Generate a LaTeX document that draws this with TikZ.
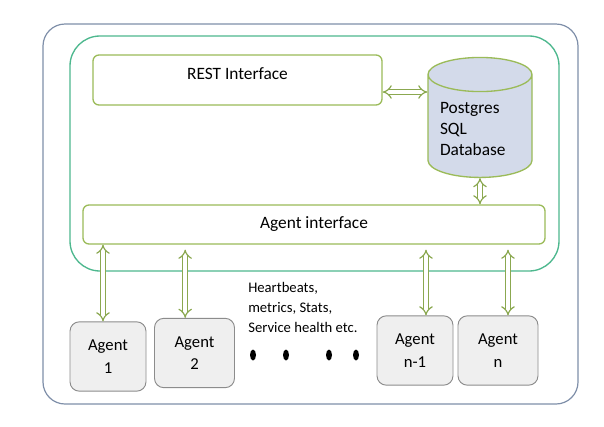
\documentclass[tikz,border=0pt]{standalone}
\usepackage{fontspec}
\setmainfont{Carlito}
\usetikzlibrary{arrows.meta,shapes.geometric}
\definecolor{outerblue}{HTML}{7F8FA9}
\definecolor{tealgreen}{HTML}{4DB88E}
\definecolor{olivegreen}{HTML}{9BBB59}
\definecolor{dbfill}{HTML}{D3DAEA}
\definecolor{agentfill}{HTML}{EFEFEF}
\definecolor{agentdraw}{HTML}{8C8C8C}
\tikzset{
  ifbox/.style={draw=olivegreen,line width=1pt,rounded corners=4.5pt,fill=white,font=\fontsize{13}{15}\selectfont},
  agentbox/.style={draw=agentdraw,line width=0.7pt,fill=agentfill,rounded corners=7pt,
    minimum width=57pt,minimum height=52pt,align=center,font=\fontsize{12.5}{17}\selectfont},
  hollow/.style={draw=olivegreen!90!black,double=white,double distance=2.6pt,line width=0.9pt,{Implies}-{Implies}}
}
\begin{document}
\begin{tikzpicture}[x=0.75pt,y=-0.75pt]
  \useasboundingbox[fill=white] (0,0) rectangle (604,426);
  \draw[outerblue,line width=0.9pt,rounded corners=16.5pt] (43,24) rectangle (578,404);
  \draw[tealgreen,line width=1pt,rounded corners=22.5pt] (70,36) rectangle (559,271);
  \node[ifbox,minimum width=216.75pt,minimum height=37.5pt,text depth=9pt] (rest) at (237.5,80) {REST Interface};
  \node[cylinder,shape border rotate=90,draw=olivegreen,line width=1pt,fill=dbfill,
    minimum width=78pt,minimum height=90pt,aspect=0.4,text width=60pt,inner xsep=2pt,align=left,
    font=\fontsize{13}{16}\selectfont] (db) at (480,129) {Postgres\\SQL\\Database};
  \node[ifbox,minimum width=346.5pt,minimum height=29.25pt] (agentif) at (314,224.5) {Agent interface};
  \node[agentbox] (agent1) at (108,356.5) {Agent\\1};
  \node[agentbox,minimum width=60pt] (agent2) at (194.5,353) {Agent\\2};
  \node[agentbox] (agentn1) at (415,350.5) {Agent\\n-1};
  \node[agentbox,minimum width=60pt] (agentn) at (498,350.5) {Agent\\n};
  \node[anchor=north west,align=left,inner sep=0pt,font=\fontsize{11}{15}\selectfont] (info) at (248,282)
    {Heartbeats,\\metrics, Stats,\\Service health etc.};
  \draw[hollow] (rest.east |- 0,92) -- (db.west |- 0,92);
  \draw[hollow] (db.bottom) -- (db.bottom |- agentif.north);
  \draw[hollow] ([xshift=-3.75pt]agent1.north) -- ([xshift=-3.75pt]agent1.north |- agentif.south);
  \draw[hollow] ([xshift=-7pt]agent2.north) -- ([xshift=-7pt,yshift=-3.75pt]agent2.north |- agentif.south);
  \draw[hollow] ([xshift=8.25pt]agentn1.north) -- ([xshift=8.25pt,yshift=-3.75pt]agentn1.north |- agentif.south);
  \draw[hollow] ([xshift=7.5pt]agentn.north) -- ([xshift=7.5pt,yshift=-3.75pt]agentn.north |- agentif.south);
  \foreach \dx in {253,286,329,356}
    \fill (\dx,355) ellipse[x radius=3,y radius=5.5];
\end{tikzpicture}
\end{document}
